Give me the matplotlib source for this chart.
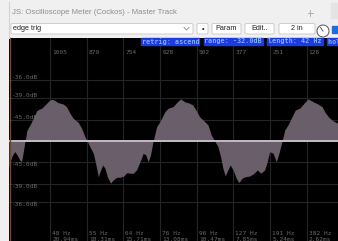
import matplotlib
matplotlib.use('Agg')
import matplotlib.pyplot as plt
from matplotlib.patches import Rectangle, FancyBboxPatch, Circle
from matplotlib.transforms import offset_copy

# 波형 데이터 (x: samples ago, y: level relative to range)
samples = [1146, 1143, 1134, 1126, 1118, 1109, 1103, 1097, 1091, 1084,
           1074, 1063, 1051, 1042, 1034, 1023, 1006, 997, 989, 977,
           960, 949, 937, 926, 909, 897, 886, 878, 869, 857,
           848, 840, 834, 825, 817, 809, 798, 789, 777, 766,
           752, 743, 732, 720, 709, 697, 686, 677, 669, 661,
           652, 640, 629, 612,
           601, 584, 569, 558, 544, 527, 516, 504, 493, 475,
           464, 453, 441, 430, 421, 413, 405, 396, 388, 378,
           367, 358, 348, 336, 321, 306, 295, 283, 270, 261,
           253, 241, 230, 221, 210, 201, 190, 176, 165, 150,
           135, 121, 104, 87, 73, 62, 50, 36, 19]
levels = [-0.28, -0.22, -0.146, -0.111, -0.146, -0.198, -0.216, -0.111, 0.0, 0.115,
          0.167, 0.236, 0.316, 0.333, 0.341, 0.375, 0.427, 0.434, 0.42, 0.399,
          0.385, 0.357, 0.289, 0.236, 0.195, 0.132, 0.045, 0.0, -0.059, -0.128,
          -0.25, -0.372, -0.32, -0.25, -0.284, -0.372, -0.44, -0.406, -0.378, -0.378,
          -0.365, -0.33, -0.336, -0.336, -0.302, -0.216, -0.128, -0.146, -0.216, -0.146,
          0.0, 0.149, 0.201, 0.305,
          0.341, 0.357, 0.409, 0.438, 0.409, 0.393, 0.375, 0.316, 0.253, 0.201,
          0.167, 0.0625, 0.0, -0.059, -0.163, -0.284, -0.365, -0.302, -0.25, -0.302,
          -0.389, -0.434, -0.389, -0.372, -0.365, -0.336, -0.302, -0.336, -0.302, -0.216,
          -0.111, -0.128, -0.216, -0.128, 0.0, 0.115, 0.167, 0.253, 0.323, 0.341,
          0.393, 0.438, 0.409, 0.385, 0.357, 0.295, 0.247, 0.211, 0.184]

# 눈금
tick_samples = [1005, 879, 754, 628, 502, 377, 251, 126]
hz_labels = ['48 Hz', '55 Hz', '64 Hz', '76 Hz', '96 Hz', '127 Hz', '191 Hz', '382 Hz']
ms_labels = ['20.94ms', '18.31ms', '15.71ms', '13.08ms', '10.47ms', '7.85ms', '5.24ms', '2.62ms']
db_ticks = [-36.0, -39.0, -45.0]
range_db = -32.0
status = ['retrig: ascend', 'range: -32.0dB', 'length: 42 Hz', 'hold: off']

title = 'JS: Oscilloscope Meter (Cockos) - Master Track'

W, H = 338, 241
fig = plt.figure(figsize=(W / 100, H / 100), dpi=100, facecolor='#f0f0f0')

# 스코프 영역
ax = fig.add_axes([9 / W, 0, (W - 9) / W, 203 / H])
ax.set_facecolor('black')
ax.set_xlim(1146, 18.5)
ax.set_ylim(-1.042, 1.073)
ax.axis('off')
ax.add_patch(Rectangle((0, 0), 1, 1, transform=ax.transAxes, color='black', zorder=0))

grid_c = '#252525'
for s in tick_samples:
    ax.axvline(s, color=grid_c, lw=0.8, zorder=1)
for d in db_ticks:
    a = 10 ** ((d - range_db) / 20)
    ax.axhline(a, color=grid_c, lw=0.8, zorder=1)
    ax.axhline(-a, color=grid_c, lw=0.8, zorder=1)

ax.fill_between(samples, levels, 0, color='#695e69', lw=0, zorder=2)
ax.axhline(0, color='#c4bcc4', lw=1.4, zorder=3)

mono = 'DejaVu Sans Mono'
lab_c = '#6a6a6a'
fs = 4.4
# dB 라벨
for d in db_ticks:
    a = 10 ** ((d - range_db) / 20)
    ax.text(0.009, a, '%.1fdB' % d, color=lab_c, fontsize=fs, family=mono,
            va='bottom', ha='left', transform=ax.get_yaxis_transform(), zorder=4)
    ax.text(0.009, -a, '%.1fdB' % d, color=lab_c, fontsize=fs, family=mono,
            va='top', ha='left', transform=ax.get_yaxis_transform(), zorder=4)

tr = offset_copy(ax.get_xaxis_transform(), fig=fig, x=2, units='dots')
for s, hz, ms in zip(tick_samples, hz_labels, ms_labels):
    ax.text(s, 0.931, str(s), color=lab_c, fontsize=fs, family=mono,
            va='center', ha='left', transform=tr, zorder=4)
    ax.text(s, 0.036, hz, color=lab_c, fontsize=fs, family=mono,
            va='center', ha='left', transform=tr, zorder=4)
    ax.text(s, 0.006, ms, color=lab_c, fontsize=fs, family=mono,
            va='center', ha='left', transform=tr, zorder=4)

# 창 프레임 (픽셀 좌표)
ui = fig.add_axes([0, 0, 1, 1], zorder=5)
ui.set_xlim(0, W)
ui.set_ylim(H, 0)
ui.axis('off')
ui.patch.set_alpha(0)

ui.plot([9.5, 9.5], [38, H], color='#6e4a38', lw=1)
ui.plot([9, 9], [2, 38], color='#d4d4d4', lw=0.8)
ui.text(12, 13, title, color='#8c8c8c', fontsize=5.6, family='Liberation Sans', va='center')
ui.plot([310, 310], [10, 16], color='#a8a8a8', lw=0.6)
ui.plot([307.5, 312.5], [12.5, 12.5], color='#a8a8a8', lw=0.6)
ui.add_patch(Rectangle((331, 3), 10, 15, color='#e4e4e4'))

def button(x0, x1, label, ha='center', tx=None):
    ui.add_patch(FancyBboxPatch((x0, 23.5), x1 - x0, 10.5, boxstyle='round,pad=0,rounding_size=1.5',
                                fc='white', ec='#c6c6c6', lw=0.6))
    if ha == 'center':
        ui.text((x0 + x1) / 2, 29, label, color='#222222', fontsize=5.2,
                family='Liberation Sans', ha='center', va='center')
    else:
        ui.text(tx, 29, label, color='#222222', fontsize=5.2,
                family='Liberation Sans', ha='left', va='center')

button(11, 193, 'edge trig', ha='left', tx=13)
ui.plot([184, 186.5, 189], [27.5, 30, 27.5], color='#8a8a8a', lw=0.6)
button(197, 208, '•')
button(212, 241, 'Param')
button(245, 274, 'Edit..')
button(279, 315, '2 in')
ui.add_patch(Circle((323, 31), 6, fc='white', ec='#555555', lw=0.7))
ui.plot([320.5, 323], [27.5, 31], color='#555555', lw=0.7)
ui.add_patch(Rectangle((332, 26), 7, 7, color='#1a6fe0'))

# 상태 표시
boxes = [(140.5, 199), (203.5, 263), (266.5, 323), (326.5, 345)]
for (x0, x1), txt in zip(boxes, status):
    ui.add_patch(Rectangle((x0, 38), x1 - x0, 7, color='#1d3be0'))
    t = ui.text(x0 + 1, 41.5, txt, color='#7fb0ff', fontsize=4.9, family=mono,
                weight='bold', va='center', ha='left')
    t.set_clip_path(Rectangle((x0, 38), x1 - x0, 7, transform=ui.transData))

fig.savefig('out.png', dpi=100, facecolor=fig.get_facecolor())
